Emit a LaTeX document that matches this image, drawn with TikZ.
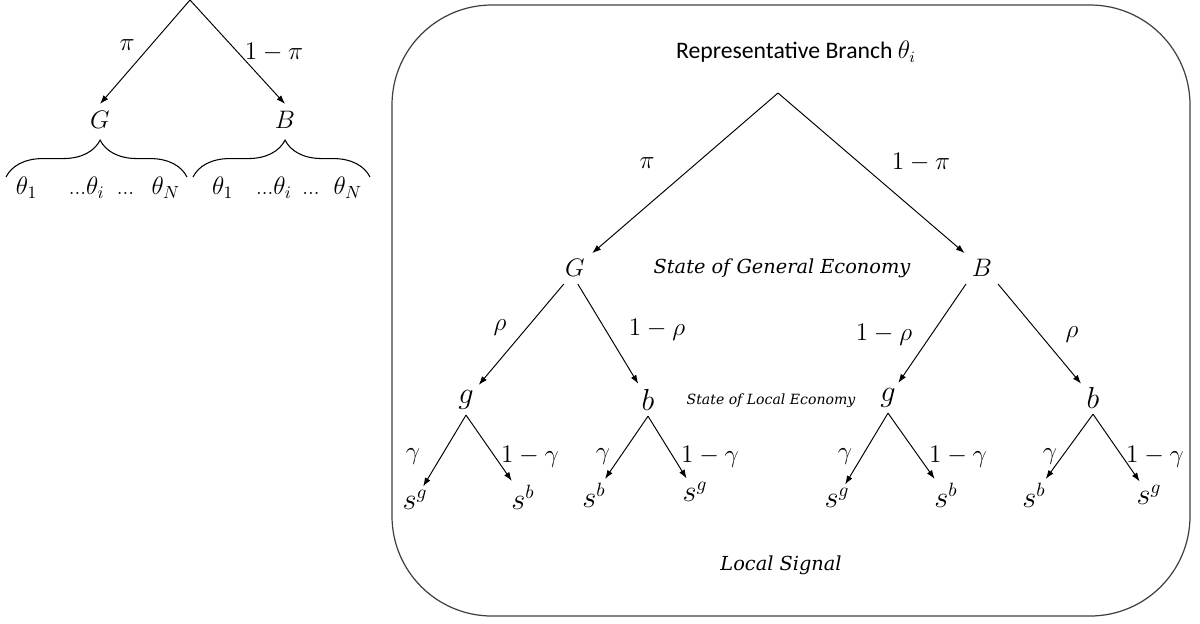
\documentclass[tikz,border=0pt]{standalone}
\usepackage{amsmath,amssymb}
\usepackage{fontspec}
\newfontfamily\titlefont{Carlito}
\newfontfamily\notefont{DejaVu Serif}
\usetikzlibrary{arrows.meta,positioning,decorations.pathreplacing}

\newcommand{\tdots}{\text{\fontsize{12}{12}\selectfont...}}

\begin{document}
\begin{tikzpicture}[
    x=0.02cm, y=-0.02cm,
    state/.style={inner sep=4pt, font=\fontsize{15}{17}\selectfont},
    local/.style={inner sep=3pt, font=\fontsize{18}{20}\selectfont},
    signal/.style={inner sep=2pt, font=\fontsize{16}{18}\selectfont},
    prob/.style={inner sep=1pt, font=\fontsize{14}{16}\selectfont},
    theta/.style={inner sep=1pt, font=\fontsize{14}{16}\selectfont},
    note/.style={inner sep=1pt, font=\notefont\itshape\fontsize{11}{13}\selectfont},
    smallnote/.style={inner sep=1pt, font=\notefont\itshape\fontsize{8}{10}\selectfont},
    arrow/.style={-{Latex[length=5pt,width=3.5pt]}, line width=0.55pt},
    brace/.style={decorate, decoration={brace, amplitude=21pt, aspect=0.52}, line width=0.6pt},
    frame/.style={draw=black!75, line width=0.7pt, rounded corners=2cm}
]
    \useasboundingbox (0,0) rectangle (1200,623);

    % Outer tree
    \coordinate (top) at (190,0);
    \node[state] (G0) at (100,120) {$G$};
    \node[state] (B0) at (285,120) {$B$};
    \node[prob] (p0) at (127,45) {$\pi$};
    \node[prob] (q0) at (274,52) {$1-\pi$};
    \draw[arrow] (top) -- (G0.north);
    \draw[arrow] (top) -- (B0.north);

    % Branches theta
    \coordinate (braceGl) at (6,177);
    \coordinate (braceGr) at (187,177);
    \coordinate (braceBl) at (193,177);
    \coordinate (braceBr) at (370,177);
    \draw[brace] (braceGl) -- (braceGr);
    \draw[brace] (braceBl) -- (braceBr);
    \node[theta] (thetaG) at (98,188) {$\theta_1\hspace{18pt}\tdots\theta_i\hspace{7pt}\tdots\hspace{10pt}\theta_N$};
    \node[theta] (thetaB) at (287,188) {$\theta_1\hspace{13pt}\tdots\theta_i\hspace{6pt}\tdots\hspace{8pt}\theta_N$};

    % Representative branch
    \draw[frame] (392,5) rectangle (1190,616);
    \node[font=\titlefont\fontsize{13.5}{15}\selectfont] (title) at (796,52) {Representative Branch $\theta_i$};
    \coordinate (root) at (778,93);
    \node[state] (G) at (575,268) {$G$};
    \node[state] (B) at (982,268) {$B$};
    \node[prob] (p1) at (647,163) {$\pi$};
    \node[prob] (q1) at (921,162) {$1-\pi$};
    \node[note] (general) at (782,268) {State of General Economy};
    \draw[arrow] (root) -- (G);
    \draw[arrow] (root) -- (B);

    % Local economy
    \node[local] (g1) at (466,400) {$g$};
    \node[local] (b2) at (648,400) {$b$};
    \node[local] (g3) at (888,398) {$g$};
    \node[local] (b4) at (1093,398) {$b$};
    \node[prob] (r1) at (500,328) {$\rho$};
    \node[prob] (r2) at (657,330) {$1-\rho$};
    \node[prob] (r3) at (884,335) {$1-\rho$};
    \node[prob] (r4) at (1072,335) {$\rho$};
    \node[smallnote] (localecon) at (771,401) {State of Local Economy};
    \draw[arrow] (G.235) -- (g1);
    \draw[arrow] (G.280) -- (b2);
    \draw[arrow] (B.225) -- (g3);
    \draw[arrow] (B.315) -- (b4);

    % Local signal
    \node[signal] (s1) at (415,500) {$s^g$};
    \node[signal] (s2) at (523,497) {$s^b$};
    \node[signal] (s3) at (594,495) {$s^b$};
    \node[signal] (s4) at (695,492) {$s^g$};
    \node[signal] (s5) at (837,498) {$s^g$};
    \node[signal] (s6) at (946,495) {$s^b$};
    \node[signal] (s7) at (1034,495) {$s^b$};
    \node[signal] (s8) at (1149,495) {$s^g$};
    \node[prob] (c1) at (413,457) {$\gamma$};
    \node[prob] (d1) at (530,457) {$1-\gamma$};
    \node[prob] (c2) at (603,457) {$\gamma$};
    \node[prob] (d2) at (710,457) {$1-\gamma$};
    \node[prob] (c3) at (845,457) {$\gamma$};
    \node[prob] (d3) at (958,457) {$1-\gamma$};
    \node[prob] (c4) at (1050,457) {$\gamma$};
    \node[prob] (d4) at (1155,457) {$1-\gamma$};
    \draw[arrow] (g1.south) -- (s1);
    \draw[arrow] (g1.south) -- (s2);
    \draw[arrow] (b2.south) -- (s3);
    \draw[arrow] (b2.south) -- (s4);
    \draw[arrow] (g3.south) -- (s5);
    \draw[arrow] (g3.south) -- (s6);
    \draw[arrow] (b4.south) -- (s7);
    \draw[arrow] (b4.south) -- (s8);
    \node[note] (signal) at (781,565) {Local Signal};
\end{tikzpicture}
\end{document}
